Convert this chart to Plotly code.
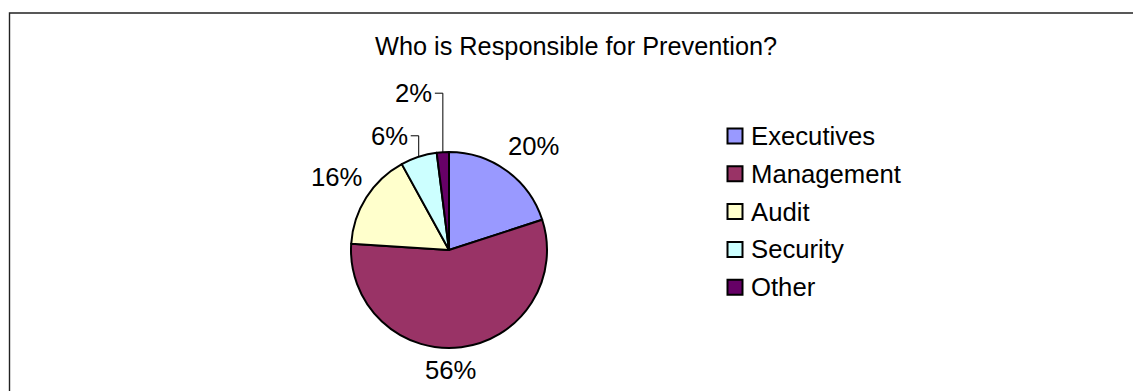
import math
import plotly.graph_objects as go

# Survey shares: who is responsible for fraud prevention
categories = ["Executives", "Management", "Audit", "Security", "Other"]
shares = [20, 56, 16, 6, 2]
colors = ["#9999FF", "#993366", "#FFFFCC", "#CCFFFF", "#660066"]
title_text = "Who is Responsible for Prevention?"

W, H = 1133, 391
FONT = "Liberation Sans, Arial, sans-serif"
TEXT_SIZE = 25.7
TITLE_SIZE = 25.3

# pie placement in pixels
cx, cy, R = 449, 250, 98

# per-label nudges (px) away from the slice's rim midpoint, and leader flags
label_nudge = [(27, -25), (-11, 23), (-30, -20), (-29, -21), (-29, -59)]
leader = [False, False, False, True, True]


def px(x):
    return x / W


def py(y):
    return 1 - y / H


fig = go.Figure(
    go.Pie(
        labels=categories,
        values=shares,
        sort=False,
        direction="clockwise",
        rotation=0,
        marker=dict(colors=colors, line=dict(color="black", width=2)),
        textinfo="none",
        hoverinfo="label+percent",
        showlegend=False,
        domain=dict(x=[px(cx - R), px(cx + R)], y=[py(cy + R), py(cy - R)]),
    )
)

annotations = []
shapes = []

# chart frame
shapes.append(dict(type="rect", xref="paper", yref="paper",
                   x0=px(9.5), x1=1.2, y0=-0.2, y1=py(13),
                   line=dict(color="#222222", width=1.4), fillcolor="rgba(0,0,0,0)"))

# title
annotations.append(dict(text=title_text, x=px(576), y=py(46), xref="paper", yref="paper",
                        showarrow=False, xanchor="center", yanchor="middle",
                        font=dict(family=FONT, size=TITLE_SIZE, color="black")))

# percentage labels placed from the slice mid-angles
total = sum(shares)
cum = 0
for i, v in enumerate(shares):
    mid = (cum + v / 2) / total * 2 * math.pi
    cum += v
    rx = cx + R * math.sin(mid)
    ry = cy - R * math.cos(mid)
    dx, dy = label_nudge[i]
    lx, ly = rx + dx, ry + dy
    pct = round(v / total * 100)
    annotations.append(dict(text=f"{pct}%", x=px(lx), y=py(ly), xref="paper", yref="paper",
                            showarrow=False, xanchor="center", yanchor="middle",
                            font=dict(family=FONT, size=TEXT_SIZE, color="black")))
    if leader[i]:
        hx = lx + 21
        shapes.append(dict(type="path", xref="paper", yref="paper",
                           path=f"M {px(rx)},{py(ry)} L {px(rx)},{py(ly)} L {px(hx)},{py(ly)}",
                           line=dict(color="black", width=1)))

# legend: swatches and names
leg_x, leg_y0, leg_step, sw = 735, 136, 37.8, 15
for i, (name, col) in enumerate(zip(categories, colors)):
    yy = leg_y0 + i * leg_step
    shapes.append(dict(type="rect", xref="paper", yref="paper",
                       x0=px(leg_x - sw / 2), x1=px(leg_x + sw / 2),
                       y0=py(yy + sw / 2), y1=py(yy - sw / 2),
                       line=dict(color="black", width=2), fillcolor=col))
    annotations.append(dict(text=name, x=px(leg_x + sw / 2 + 6), y=py(yy), xref="paper", yref="paper",
                            showarrow=False, xanchor="left", yanchor="middle",
                            font=dict(family=FONT, size=TEXT_SIZE, color="black")))

fig.update_layout(
    width=W, height=H,
    margin=dict(l=0, r=0, t=0, b=0),
    paper_bgcolor="white",
    plot_bgcolor="white",
    annotations=annotations,
    shapes=shapes,
)

fig.write_html("out.html")
